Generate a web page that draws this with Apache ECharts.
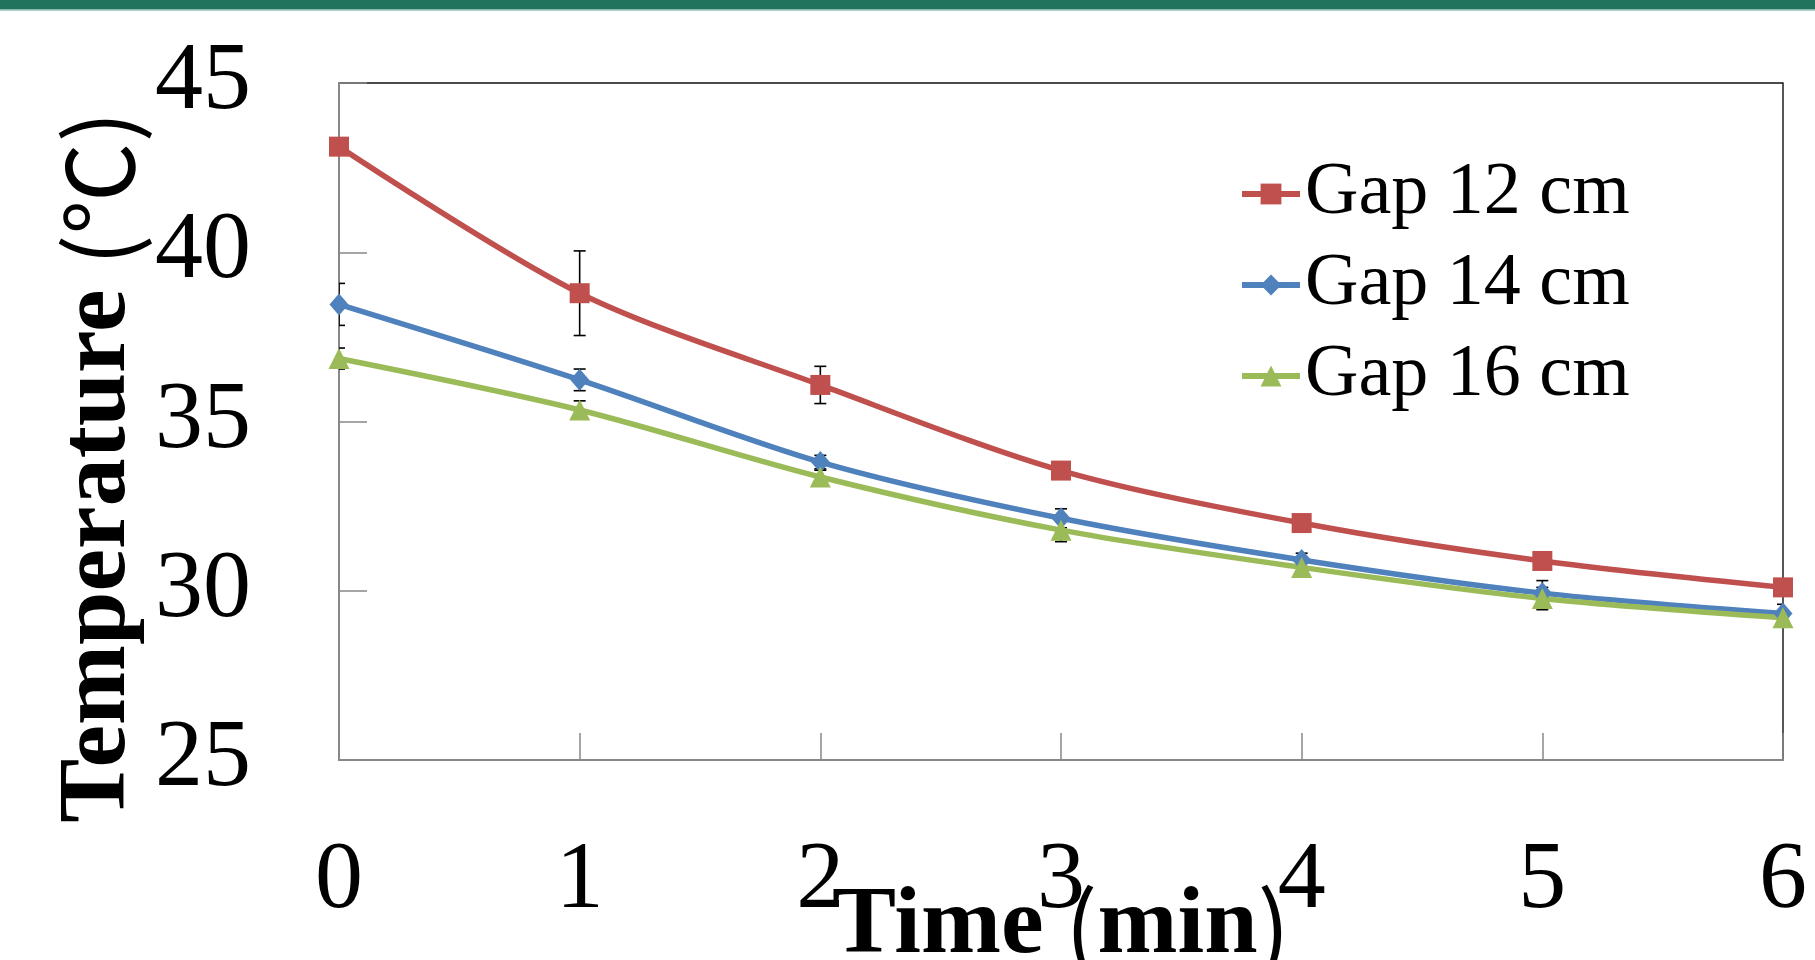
<!DOCTYPE html>
<html>
<head>
<meta charset="utf-8">
<title>Temperature vs time</title>
<script src="https://cdn.jsdelivr.net/npm/echarts@6/dist/echarts.min.js"></script>
<style>
  html, body { margin: 0; padding: 0; background: #fff; }
  #chart { width: 1815px; height: 960px; }
</style>
</head>
<body>
<div id="chart"></div>
<script>
// time points (min)
const times = [0, 1, 2, 3, 4, 5, 6];
const yTicks = [25, 30, 35, 40, 45];

// mean temperatures
const gap12 = [43.12, 38.79, 36.08, 33.55, 32.0, 30.88, 30.1];
const gap14 = [38.46, 36.23, 33.8, 32.14, 30.91, 29.93, 29.33];
const gap16 = [36.86, 35.34, 33.36, 31.79, 30.69, 29.77, 29.2];

// error bar half-heights
const err12 = [0.2, 1.25, 0.55, 0.2, 0.2, 0.2, 0.2];
const err14 = [0.62, 0.32, 0.2, 0.28, 0.2, 0.37, 0.27];
const err16 = [0.31, 0.27, 0.2, 0.34, 0.2, 0.33, 0.2];

const names = ['Gap 12 cm', 'Gap 14 cm', 'Gap 16 cm'];
const colors = ['#C0504D', '#4F81BD', '#9BBB59'];

const chart = echarts.init(document.getElementById('chart'));

function pairs(vals) {
  return times.map((t, i) => [t, vals[i]]);
}

// [x, low, high] for the custom error bar series
function bars(vals, errs) {
  return times.map((t, i) => [t, vals[i] - errs[i], vals[i] + errs[i]]);
}

function renderErr(params, api) {
  const top = api.coord([api.value(0), api.value(2)]);
  const bot = api.coord([api.value(0), api.value(1)]);
  const cap = 6;
  const style = { stroke: '#000', lineWidth: 1.6 };
  return {
    type: 'group',
    children: [
      { type: 'line', shape: { x1: top[0], y1: top[1], x2: bot[0], y2: bot[1] }, style: style },
      { type: 'line', shape: { x1: top[0] - cap, y1: top[1], x2: top[0] + cap, y2: top[1] }, style: style },
      { type: 'line', shape: { x1: bot[0] - cap, y1: bot[1], x2: bot[0] + cap, y2: bot[1] }, style: style }
    ]
  };
}

const serif = '"Liberation Serif", "Times New Roman", serif';
const thin = '"Noto Sans CJK SC", "Liberation Serif", serif';

const lineSeries = [
  { vals: gap12, symbol: 'rect', size: 20 },
  { vals: gap14, symbol: 'diamond', size: [19, 22] },
  { vals: gap16, symbol: 'triangle', size: [21, 21] }
].map((s, i) => ({
  name: names[i],
  type: 'line',
  data: pairs(s.vals),
  smooth: 0.3,
  symbol: s.symbol,
  symbolSize: s.size,
  showSymbol: true,
  z: 3,
  lineStyle: { color: colors[i], width: 5.5 },
  itemStyle: { color: colors[i], borderWidth: 0 }
}));

const errSeries = [[gap12, err12], [gap14, err14], [gap16, err16]].map(p => ({
  type: 'custom',
  renderItem: renderErr,
  data: bars(p[0], p[1]),
  encode: { x: 0, y: [1, 2] },
  clip: true,
  silent: true,
  z: 1
}));

const option = {
  animation: false,
  backgroundColor: '#fff',
  graphic: [
    { type: 'rect', left: 0, top: 0, shape: { width: 1815, height: 9.5 }, style: { fill: '#22735D' } },
    { type: 'rect', left: 0, top: 9.5, shape: { width: 1815, height: 1.2 }, style: { fill: '#8DC0B1' } }
  ],
  grid: {
    left: 339, top: 83, right: 32, bottom: 200,
    containLabel: false,
    outerBoundsMode: 'none',
    show: true,
    borderColor: '#111',
    borderWidth: 1.4,
    backgroundColor: 'transparent'
  },
  legend: {
    orient: 'vertical',
    left: 1234,
    top: 152,
    itemWidth: 58,
    itemHeight: 26,
    itemGap: 17,
    data: names,
    lineStyle: { width: 6 },
    textStyle: { fontFamily: serif, fontSize: 74, color: '#000' }
  },
  xAxis: {
    type: 'value',
    min: 0,
    max: 6,
    interval: 1,
    name: '{b|Time}{n| (}{b|min}{n|)}',
    nameLocation: 'middle',
    nameGap: 119,
    nameMoveOverlap: false,
    nameTextStyle: {
      rich: {
        b: { fontFamily: serif, fontWeight: 'bold', fontSize: 96, color: '#000' },
        n: { fontFamily: thin, fontWeight: 'normal', fontSize: 96, color: '#000' }
      }
    },
    axisLine: { lineStyle: { color: '#888', width: 2 } },
    axisTick: { inside: true, length: 27, lineStyle: { color: '#888', width: 1.5 } },
    axisLabel: {
      margin: 74,
      fontFamily: serif, fontSize: 96, color: '#000',
      formatter: v => times.includes(v) ? String(v) : ''
    },
    splitLine: { show: false }
  },
  yAxis: {
    type: 'value',
    min: yTicks[0],
    max: yTicks[yTicks.length - 1],
    interval: 5,
    name: '{b|Temperature }{n|(℃)}',
    nameLocation: 'middle',
    nameGap: 192,
    nameRotate: 90,
    nameMoveOverlap: false,
    nameTextStyle: {
      padding: [0, 91, 0, 0],
      rich: {
        b: { fontFamily: serif, fontWeight: 'bold', fontSize: 96, color: '#000' },
        n: { fontFamily: thin, fontWeight: 'normal', fontSize: 92, color: '#000' }
      }
    },
    axisLine: { show: true, lineStyle: { color: '#888', width: 2 } },
    axisTick: { show: true, inside: true, length: 28, lineStyle: { color: '#888', width: 1.5 } },
    axisLabel: { margin: 88, fontFamily: serif, fontSize: 96, color: '#000' },
    splitLine: { show: false }
  },
  series: errSeries.concat(lineSeries)
};

chart.setOption(option);
</script>
</body>
</html>
